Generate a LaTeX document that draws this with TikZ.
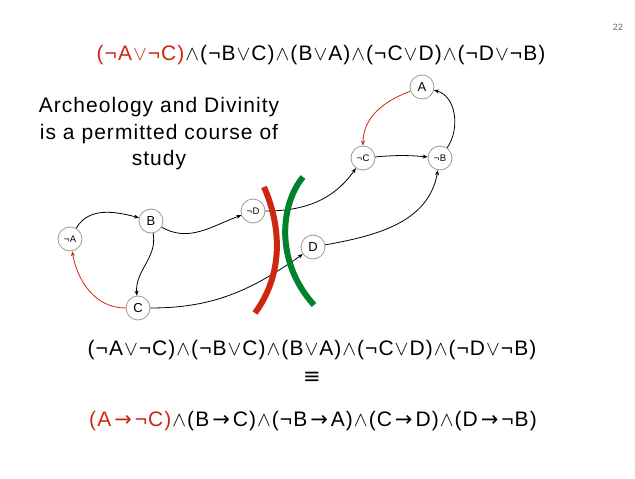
\documentclass[tikz,border=0pt]{standalone}
\usepackage{fontspec}
\setmainfont{Liberation Sans}[LetterSpace=5]
\newfontfamily\symf{DejaVu Sans}
\usetikzlibrary{arrows.meta}
\definecolor{hotred}{RGB}{205,40,15}
\definecolor{cutgreen}{RGB}{0,130,45}
\newcommand{\nt}{¬}
\newcommand{\orr}{\kern1pt\ensuremath{\vee}\kern1pt}
\newcommand{\andd}{\kern1pt\ensuremath{\wedge}\kern1pt}
\newcommand{\impl}{\kern3pt{\symf →}\kern3pt}
\begin{document}
\begin{tikzpicture}[x=1pt,y=1pt,>={Stealth[length=5pt,width=4pt]},lit/.style={circle,draw=gray!80,line width=0.8pt,minimum size=24pt,inner sep=0pt,font=\fontsize{13}{14}\selectfont},nlit/.style={lit,font=\fontsize{9.5}{10}\selectfont},imp/.style={->,line width=0.8pt},bad/.style={imp,draw=hotred,color=hotred},cut/.style={line width=6pt},eq/.style={font=\fontsize{21}{24}\selectfont}]
\useasboundingbox (0,0) rectangle (635,-479);
\node[font=\fontsize{9}{10}\selectfont,text=gray!80!black] (page) at (618,-27) {22};
\node[eq] (clauses) at (321,-55) {\textcolor{hotred}{(\nt A\orr\nt C)}\andd(\nt B\orr C)\andd(B\orr A)\andd(\nt C\orr D)\andd(\nt D\orr\nt B)};
\node[align=center,font=\fontsize{21}{26.5}\selectfont] (course) at (159,-134) {Archeology and Divinity\\is a permitted course of\\study};
% implication graph
\node[nlit] (nA) at (70,-239) {\nt A};
\node[lit] (B) at (151,-221) {B};
\node[lit] (C) at (138,-308) {C};
\node[nlit] (nD) at (253,-211) {\nt D};
\node[lit] (D) at (313,-247) {D};
\node[nlit] (nC) at (363,-158) {\nt C};
\node[nlit] (nB) at (440,-158) {\nt B};
\node[lit] (A) at (422,-87) {A};
\draw[imp] (nA) to[out=60,in=165] (B);
\draw[imp] (B) to[out=-30,in=200] (nD);
\draw[imp] (B) to[out=-80,in=95] (C);
\draw[bad] (C) to[out=180,in=-80] (nA);
\draw[imp] (C) to[out=0,in=215] (D);
\draw[imp] (nD) to[out=0,in=235] (nC);
\draw[imp] (D) to[out=10,in=260] (nB);
\draw[imp] (nC) to[out=5,in=175] (nB);
\draw[imp] (nB) to[out=55,in=-15] (A);
\draw[bad] (A) to[out=200,in=90] (nC);
% the two cuts
\draw[cut,hotred] (264,-187) .. controls (282,-228) and (283,-275) .. (255,-313);
\draw[cut,cutgreen] (303,-177) .. controls (280,-205) and (275,-262) .. (314,-305);
% rewritten as implications
\node[eq] (clauses2) at (312,-350) {(\nt A\orr\nt C)\andd(\nt B\orr C)\andd(B\orr A)\andd(\nt C\orr D)\andd(\nt D\orr\nt B)};
\node[eq] (equiv) at (312,-378) {{\symf ≡}};
\node[eq] (imps) at (313,-421) {\textcolor{hotred}{(A\impl\nt C)}\andd(B\impl C)\andd(\nt B\impl A)\andd(C\impl D)\andd(D\impl\nt B)};
\end{tikzpicture}
\end{document}
